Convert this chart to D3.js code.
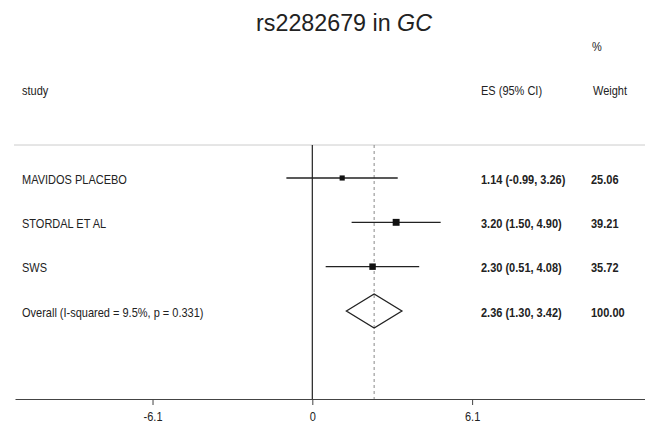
<!DOCTYPE html>
<html>
<head>
<meta charset="utf-8">
<script src="https://cdn.jsdelivr.net/npm/d3@7"></script>
<style>
  body { margin: 0; background: #fff; }
  svg { font-family: "Liberation Sans", Arial, sans-serif; }
</style>
</head>
<body>
<svg width="645" height="425"></svg>
<script>
var svg = d3.select("svg"),
    width = +svg.attr("width"),
    height = +svg.attr("height");

// data
var studies = ["MAVIDOS PLACEBO", "STORDAL ET AL", "SWS"];
var es = [1.14, 3.20, 2.30];
var lower = [-0.99, 1.50, 0.51];
var upper = [3.26, 4.90, 4.08];
var weights = [25.06, 39.21, 35.72];

var overallLabel = "Overall  (I-squared = 9.5%, p = 0.331)";
var overall = { es: 2.36, lower: 1.30, upper: 3.42, weight: 100.00 };

var tickValues = [-6.1, 0, 6.1];
var tickLabels = ["-6.1", "0", "6.1"];

var rows = studies.concat([overallLabel]);

var x = d3.scaleLinear().domain([-11.35, 12.7]).range([15, 645]);
var y = d3.scalePoint().domain(rows).range([178, 311]);

var axisY = 399, topY = 145;
var fs = 12.5, sx = 0.88;   // the original text is a bit squeezed sideways

// plain hyphen instead of the unicode minus of d3.format
function fmt(v) { return v.toFixed(2); }

function addText(px, py, txt, anchor, bold) {
  return svg.append("text")
      .attr("transform", "translate(" + px + "," + py + ") scale(" + sx + ",1)")
      .attr("text-anchor", anchor || "start")
      .attr("font-size", fs)
      .attr("font-weight", bold ? "bold" : "normal")
      .attr("fill", "#222")
      .text(txt);
}

// title
var title = svg.append("text")
    .attr("transform", "translate(344,31) scale(0.97,1)")
    .attr("text-anchor", "middle")
    .attr("font-size", 24)
    .attr("fill", "#222");
title.append("tspan").text("rs2282679 in ");
title.append("tspan").attr("font-style", "italic").text("GC");

// headers
addText(22, 95, "study");
addText(481, 95, "ES (95% CI)");
addText(597, 51, "%", "middle");
addText(610, 95, "Weight", "middle");

// separator line under header
svg.append("line")
    .attr("x1", 14).attr("x2", width)
    .attr("y1", topY).attr("y2", topY)
    .attr("stroke", "#ccc").attr("stroke-width", 1);

// null line and overall dashed line
svg.append("line")
    .attr("x1", x(0)).attr("x2", x(0))
    .attr("y1", topY).attr("y2", axisY)
    .attr("stroke", "#222").attr("stroke-width", 1.2);

svg.append("line")
    .attr("x1", x(overall.es)).attr("x2", x(overall.es))
    .attr("y1", topY).attr("y2", axisY)
    .attr("stroke", "#888").attr("stroke-width", 1)
    .attr("stroke-dasharray", "3,3");

// confidence intervals and point markers
var g = svg.append("g");
studies.forEach(function(s, i) {
  g.append("line")
      .attr("x1", x(lower[i])).attr("x2", x(upper[i]))
      .attr("y1", y(s)).attr("y2", y(s))
      .attr("stroke", "#222").attr("stroke-width", 1.3);
  var sz = 2 + weights[i] / 8;
  g.append("rect")
      .attr("x", x(es[i]) - sz / 2).attr("y", y(s) - sz / 2)
      .attr("width", sz).attr("height", sz)
      .attr("fill", "#111");
});

// overall diamond
var dy = y(overallLabel), dh = 17;
svg.append("path")
    .attr("d", d3.line()([
      [x(overall.lower), dy], [x(overall.es), dy - dh],
      [x(overall.upper), dy], [x(overall.es), dy + dh]
    ]) + "Z")
    .attr("fill", "none").attr("stroke", "#222").attr("stroke-width", 1.3);

// text columns
var esText = studies.map(function(s, i) {
  return fmt(es[i]) + " (" + fmt(lower[i]) + ", " + fmt(upper[i]) + ")";
}).concat([fmt(overall.es) + " (" + fmt(overall.lower) + ", " + fmt(overall.upper) + ")"]);
var wText = weights.map(fmt).concat([fmt(overall.weight)]);

rows.forEach(function(r, i) {
  addText(22, y(r) + 5.5, r);
  addText(481, y(r) + 5.5, esText[i], "start", true);
  addText(591, y(r) + 5.5, wText[i], "start", true);
});

// axis
var axis = svg.append("g")
    .attr("transform", "translate(0," + axisY + ")")
    .call(d3.axisBottom(x)
      .tickValues(tickValues)
      .tickFormat(function(d, i) { return tickLabels[i]; })
      .tickSize(6)
      .tickSizeOuter(0));
axis.select(".domain").attr("stroke", "#444").attr("stroke-width", 1.2);
axis.selectAll(".tick line").attr("stroke", "#444");
axis.selectAll(".tick text")
    .attr("font-size", fs).attr("fill", "#222")
    .attr("font-family", "'Liberation Sans', Arial, sans-serif")
    .attr("y", 22.5).attr("dy", null)
    .attr("transform", "scale(" + sx + ",1)");
</script>
</body>
</html>
